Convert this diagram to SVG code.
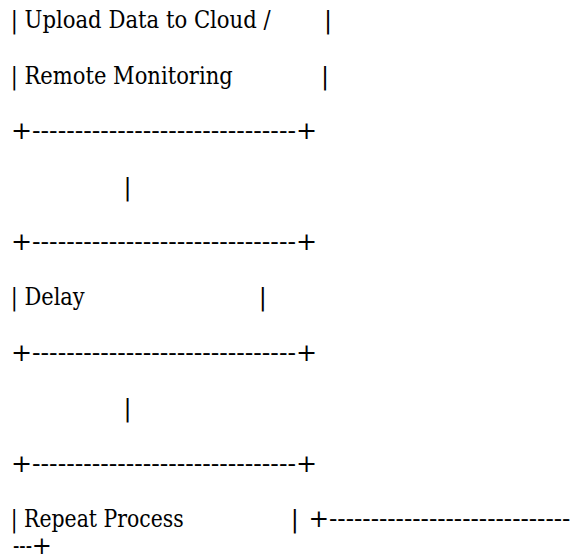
<svg xmlns="http://www.w3.org/2000/svg" width="574" height="555" viewBox="0 0 574 555">
<style>
text{font-family:'DejaVu Serif','Liberation Serif',serif;font-size:24px;fill:#000;}
.m{text-anchor:middle;}
</style>
<rect width="574" height="555" fill="#fff"/>
<g id="node-upload">
<text x="10.7" y="28.3" textLength="260" lengthAdjust="spacingAndGlyphs">| Upload Data to Cloud /</text>
<text class="m" x="328" y="28.3">|</text>
<text x="10.7" y="83.7" textLength="222" lengthAdjust="spacingAndGlyphs">| Remote Monitoring</text>
<text class="m" x="325" y="83.7">|</text>
<text x="11" y="139.1" textLength="306" lengthAdjust="spacingAndGlyphs">+-------------------------------+</text>
</g>
<g id="connectors">
<text class="m" x="127.5" y="194.5">|</text>
<text class="m" x="127.5" y="416.1">|</text>
</g>
<g id="node-delay">
<text x="11" y="249.9" textLength="306" lengthAdjust="spacingAndGlyphs">+-------------------------------+</text>
<text x="10.7" y="305.3" textLength="74" lengthAdjust="spacingAndGlyphs">| Delay</text>
<text class="m" x="262.7" y="305.3">|</text>
<text x="11" y="360.7" textLength="306" lengthAdjust="spacingAndGlyphs">+-------------------------------+</text>
</g>
<g id="node-repeat">
<text x="11" y="471.5" textLength="306" lengthAdjust="spacingAndGlyphs">+-------------------------------+</text>
<text x="10.7" y="526.9" textLength="173" lengthAdjust="spacingAndGlyphs">| Repeat Process</text>
<text class="m" x="294.8" y="526.9">|</text>
<text x="308.4" y="526.9" textLength="262" lengthAdjust="spacingAndGlyphs">+-----------------------------</text>
<text x="13" y="554" textLength="19" lengthAdjust="spacingAndGlyphs">---</text>
<text x="31.7" y="554">+</text>
</g>
</svg>
